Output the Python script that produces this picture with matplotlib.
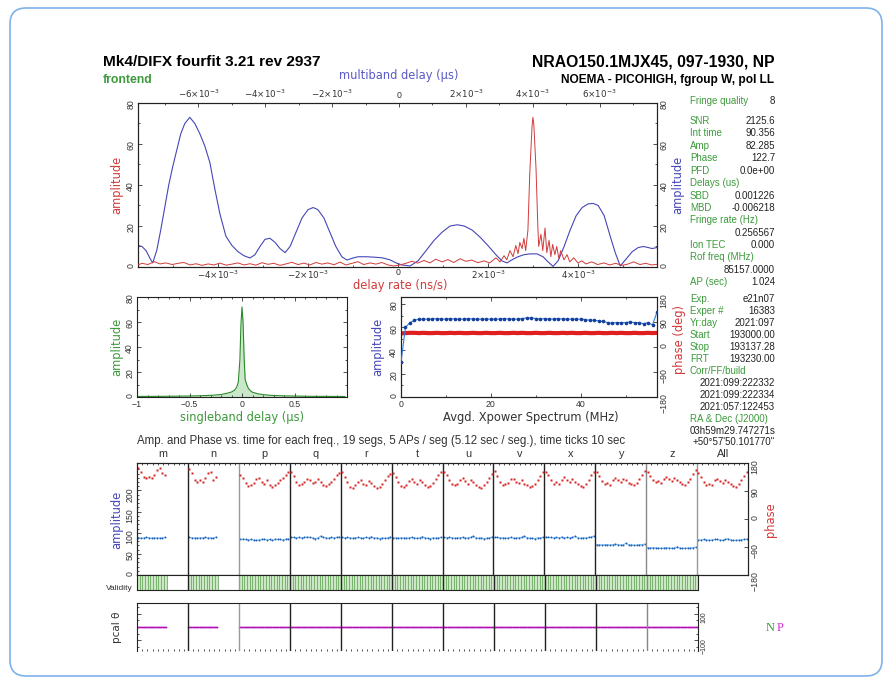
import numpy as np
import matplotlib
matplotlib.use('Agg')
import matplotlib.pyplot as plt
from matplotlib.patches import FancyBboxPatch
from matplotlib.transforms import IdentityTransform

plt.rcParams['font.family'] = ['Liberation Sans', 'DejaVu Sans']
plt.rcParams['mathtext.fontset'] = 'dejavusans'

# --- data ---
# multiband delay (1e-3 us) vs amplitude (blue)
mbd_x = [-7.81, -7.69, -7.57, -7.46, -7.37, -7.25, -7.13, -7.01, -6.89, -6.77, -6.65, -6.53,
         -6.41, -6.26, -6.11, -5.96, -5.81, -5.66, -5.51, -5.36, -5.18, -5.00, -4.82, -4.64,
         -4.46, -4.31, -4.16, -4.01, -3.86, -3.71, -3.56, -3.41, -3.26, -3.08, -2.90, -2.72,
         -2.57, -2.43, -2.25, -2.07, -1.89, -1.71, -1.56, -1.41, -1.23, -0.99, -0.75, -0.51,
         -0.27, -0.09, 0.09, 0.33, 0.57, 0.81, 1.05, 1.29, 1.53, 1.74, 1.95, 2.19, 2.43, 2.66,
         2.90, 3.08, 3.23, 3.38, 3.56, 3.74, 3.92, 4.13, 4.31, 4.46, 4.61, 4.76, 4.94, 5.12,
         5.30, 5.48, 5.66, 5.81, 5.96, 6.14, 6.32, 6.47, 6.62, 6.80, 6.98, 7.16, 7.31, 7.46,
         7.57, 7.72]
mbd_amp = [10.5, 10, 8, 4.5, 2, 8, 18, 29, 40, 49, 57, 65,
           70, 73, 70, 65, 59, 51, 38, 26, 15, 10.5, 7.5, 5.5,
           4.4, 6, 10, 13.5, 14, 12, 9, 7, 10, 17, 24, 28,
           29, 28, 24, 17, 10, 5, 3.4, 4.2, 5, 5, 4.8, 4.5,
           3.5, 2, 1, 0.5, 3, 8, 13, 17, 20, 20.6, 20, 18, 14.5, 10.5,
           6, 3, 2, 3.5, 5, 6, 6.4, 6.4, 5, 2.5, 0.3, 3, 10, 18,
           25, 29, 30.8, 31, 30, 25, 15, 7, 0.5, 4, 7.5, 9.5, 10, 9.5,
           9, 9.5]

# delay rate (1e-3 ns/s) vs amplitude (red)
rate_x = [-5.78, -5.69, -5.56, -5.42, -5.29, -5.16, -5.02, -4.89, -4.76, -4.62, -4.49, -4.36,
          -4.22, -4.09, -3.96, -3.82, -3.69, -3.56, -3.42, -3.29, -3.16, -3.02, -2.89, -2.76,
          -2.62, -2.49, -2.36, -2.22, -2.09, -1.96, -1.82, -1.69, -1.56, -1.42, -1.29, -1.16,
          -1.02, -0.89, -0.76, -0.62, -0.49, -0.36, -0.22, -0.09, 0.04, 0.18, 0.31, 0.44,
          0.58, 0.71, 0.84, 0.98, 1.11, 1.24, 1.38, 1.51, 1.64, 1.78, 1.91, 2.04, 2.18, 2.27,
          2.36, 2.42, 2.49, 2.56, 2.62, 2.67, 2.71, 2.76, 2.80, 2.84, 2.89, 2.93, 2.98, 3.00,
          3.02, 3.07, 3.11, 3.13, 3.18, 3.22, 3.27, 3.31, 3.36, 3.40, 3.44, 3.49, 3.53, 3.58,
          3.62, 3.69, 3.76, 3.82, 3.91, 4.00, 4.09, 4.18, 4.31, 4.44, 4.58, 4.71, 4.84, 4.98,
          5.11, 5.24, 5.38, 5.51, 5.64, 5.76]
rate_amp = [1.0, 1.8, 1.2, 2.6, 1.5, 2.0, 1.2, 1.8, 2.2, 1.0, 1.6, 0.8,
            1.5, 1.0, 1.9, 0.9, 1.4, 2.0, 1.0, 1.6, 0.9, 2.1, 1.3, 1.8,
            0.8, 1.5, 2.3, 1.2, 1.9, 1.0, 2.2, 1.4, 2.0, 1.1, 2.4, 1.0,
            1.8, 2.6, 1.2, 2.0, 1.4, 2.2, 1.0, 0.5, 1.0, 1.8, 2.8, 1.9,
            3.2, 2.0, 3.8, 2.5, 3.6, 2.2, 4.0, 2.8, 3.4, 2.1, 3.0, 2.0, 4.5, 2.5,
            5.5, 3.5, 8.0, 5.0, 10.5, 6.5, 12, 9, 14, 8, 18, 45, 68, 73,
            70, 48, 20, 10, 16, 8, 19, 7, 13, 5, 11, 6, 10, 4,
            8, 3.5, 6, 2.5, 4.5, 2.0, 3.0, 1.5, 2.5, 1.2, 2.0, 1.0, 1.8, 0.8,
            1.4, 2.5, 1.2, 1.8, 1.0, 1.3]

# singleband delay (us) vs amplitude (green)
sbd_x = [-1.0, -0.9, -0.8, -0.7, -0.6, -0.5, -0.4, -0.3, -0.25, -0.2, -0.15, -0.1, -0.07,
         -0.05, -0.035, -0.02, -0.01, 0.0, 0.01, 0.02, 0.03, 0.045, 0.06, 0.08, 0.1, 0.15,
         0.2, 0.25, 0.3, 0.4, 0.5, 0.6, 0.7, 0.8, 0.9, 0.98]
sbd_amp = [0.4, 0.5, 0.5, 0.6, 0.7, 0.8, 1.0, 1.3, 1.6, 2.0, 2.8, 4.0, 5.5,
           8, 12, 30, 58, 72, 60, 32, 14, 10, 7, 5, 3.8, 2.6,
           1.9, 1.5, 1.2, 0.9, 0.8, 0.6, 0.5, 0.5, 0.4, 0.4]

# averaged cross-power spectrum
xp_freq = [0, 1, 2, 3, 4, 5, 6, 7, 8, 9, 10, 11, 12, 13, 14, 15, 16, 17, 18, 19, 20, 21, 22,
           23, 24, 25, 26, 27, 28, 29, 30, 31, 32, 33, 34, 35, 36, 37, 38, 39, 40, 41, 42, 43,
           44, 45, 46, 47, 48, 49, 50, 51, 52, 53, 54, 55, 56, 57]
xp_amp = [30, 60, 64, 66, 67, 67, 67, 67, 67.5, 67, 67, 67.5, 67, 67, 67, 67.5, 67, 67, 67,
          67, 67, 67, 67, 67.5, 67, 67, 67, 67.5, 68, 68, 67.5, 67, 67.5, 67, 67, 67.5, 67,
          67, 67, 67, 67, 66.5, 66, 66, 65.5, 65, 64, 63.5, 64, 64, 64, 64.5, 64, 64, 63,
          64, 62, 73]
xp_phase = [49, 50, 51, 51, 50, 51, 50, 50, 51, 50, 50, 51, 50, 51, 50, 50, 51, 50, 50, 51,
            50, 50, 51, 50, 50, 51, 50, 51, 50, 50, 51, 50, 50, 51, 50, 50, 51, 50, 51, 50,
            50, 51, 50, 50, 51, 50, 50, 51, 50, 51, 50, 50, 51, 50, 50, 51, 50, 51]

# per-channel amplitude / phase vs. time (one value per segment)
channels = ['m', 'n', 'p', 'q', 'r', 't', 'u', 'v', 'x', 'y', 'z', 'All']
seg_phase = [
    [164, 152, 136, 131, 136, 131, 140, 157, 164, 148, 140],
    [160, 147, 125, 120, 125, 120, 131, 147, 152, 125, 136],
    [140, 132, 116, 106, 110, 116, 128, 132, 120, 114, 124, 110, 104, 108, 116, 124, 132, 142, 150],
    [152, 138, 120, 108, 112, 118, 130, 126, 116, 120, 128, 118, 110, 106, 112, 120, 130, 140, 148],
    [150, 136, 118, 104, 100, 108, 118, 124, 114, 110, 122, 116, 106, 100, 104, 114, 126, 138, 146],
    [148, 134, 118, 106, 102, 110, 122, 128, 118, 112, 124, 118, 108, 102, 106, 116, 128, 140, 150],
    [150, 140, 124, 112, 108, 114, 126, 132, 122, 114, 126, 118, 110, 104, 100, 108, 118, 132, 144],
    [154, 138, 120, 108, 112, 116, 128, 130, 120, 116, 124, 114, 108, 102, 106, 112, 124, 138, 150],
    [150, 140, 124, 114, 118, 112, 126, 134, 124, 118, 128, 120, 112, 106, 104, 112, 124, 140, 152],
    [152, 138, 122, 112, 116, 110, 124, 132, 126, 118, 128, 124, 116, 112, 108, 116, 128, 142, 154],
    [150, 138, 126, 118, 122, 116, 130, 136, 128, 122, 132, 126, 118, 114, 110, 118, 130, 144, 156],
    [148, 136, 120, 110, 114, 110, 124, 130, 122, 116, 126, 118, 112, 106, 104, 112, 124, 138, 150],
]
seg_amp = [
    [88, 87, 88, 89, 88, 87, 88, 88, 87, 88, 89],
    [89, 88, 88, 87, 88, 88, 89, 88, 88, 87, 90],
    [84, 85, 84, 83, 84, 83, 82, 83, 84, 85, 83, 84, 82, 84, 85, 84, 83, 85, 86],
    [89, 89, 88, 89, 88, 89, 90, 89, 88, 86, 88, 92, 89, 88, 87, 89, 88, 89, 90],
    [89, 88, 89, 88, 87, 88, 89, 88, 87, 89, 88, 91, 87, 88, 86, 88, 87, 88, 90],
    [88, 88, 87, 88, 88, 87, 88, 89, 88, 87, 88, 91, 88, 87, 86, 88, 87, 88, 89],
    [89, 88, 89, 88, 87, 88, 88, 89, 87, 88, 89, 92, 88, 87, 88, 86, 87, 88, 90],
    [89, 89, 88, 88, 87, 88, 89, 87, 88, 88, 89, 92, 88, 87, 87, 86, 88, 88, 89],
    [90, 89, 89, 88, 89, 88, 90, 88, 89, 88, 89, 92, 88, 87, 88, 88, 89, 90, 92],
    [72, 72, 71, 72, 72, 71, 72, 73, 72, 71, 72, 75, 71, 72, 70, 71, 72, 72, 73],
    [65, 64, 65, 64, 64, 63, 64, 65, 64, 63, 64, 67, 64, 63, 63, 64, 64, 65, 66],
    [83, 83, 84, 83, 82, 83, 84, 84, 83, 82, 84, 86, 83, 82, 82, 83, 83, 84, 85],
]
pcal_phase = [0, 0, 0, 0, 0, 0, 0, 0, 0, 0, 0]

info_rows = [
    ('Fringe quality', '8'), ('SNR', '2125.6'), ('Int time', '90.356'), ('Amp', '82.285'),
    ('Phase', '122.7'), ('PFD', '0.0e+00'), ('Delays (us)', ''), ('SBD', '0.001226'),
    ('MBD', '-0.006218'), ('Fringe rate (Hz)', ''), ('', '0.256567'), ('Ion TEC', '0.000'),
    ('Rof freq (MHz)', ''), ('', '85157.0000'), ('AP (sec)', '1.024'), ('Exp.', 'e21n07'),
    ('Exper #', '16383'), ('Yr:day', '2021:097'), ('Start', '193000.00'), ('Stop', '193137.28'),
    ('FRT', '193230.00'), ('Corr/FF/build', ''), ('', '2021:099:222332'), ('', '2021:099:222334'),
    ('', '2021:057:122453'), ('RA & Dec (J2000)', ''), ('', '03h59m29.747271s'),
    ('', '+50\u00b057\'50.101770"'),
]
info_y = [101, 121, 133, 146, 158, 171, 183, 196, 208, 220, 233, 245, 257, 270, 282,
          299, 311, 323, 335, 347, 359, 371, 383, 395, 407, 419, 431, 442]

# --- layout helpers (pixel boxes in a 892x679 canvas) ---
W, H = 892, 679
RED = '#d23a3a'
BLUE = '#4646b8'
GREEN = '#3c9a3c'
TXT = '#333333'
LAB = dict(family='DejaVu Sans', fontsize=8.3)


def box(x0, y0, x1, y1):
    return [x0 / W, 1 - y1 / H, (x1 - x0) / W, (y1 - y0) / H]


def ftext(x, y, s, **kw):
    fig.text(x / W, 1 - y / H, s, **kw)


def style(ax, size=6.3):
    ax.tick_params(which='both', direction='in', labelsize=size, colors='#333333',
                   width=0.6, pad=2)
    ax.tick_params(which='major', length=3)
    ax.tick_params(which='minor', length=1.5)
    for s in ax.spines.values():
        s.set_linewidth(0.8)
        s.set_color('#222222')


def sci(v):
    if v == 0:
        return '0'
    return r'$%d{\times}10^{-3}$' % v


fig = plt.figure(figsize=(8.92, 6.79), dpi=100)

# rounded frame round the figure
fig.patches.append(FancyBboxPatch((10, 3), 872, 668, boxstyle='round,pad=0,rounding_size=16',
                                  transform=IdentityTransform(), fill=False,
                                  edgecolor='#7fb2ea', linewidth=1.2, figure=fig))

# titles
ftext(103, 62, 'Mk4/DIFX fourfit 3.21 rev 2937', fontsize=11.1, fontweight='bold', va='center')
ftext(103, 80, 'frontend', fontsize=8.8, fontweight='bold', color=GREEN, va='center')
ftext(774, 62, 'NRAO150.1MJX45, 097-1930, NP', fontsize=11.3, fontweight='bold', va='center',
      ha='right')
ftext(774, 80, 'NOEMA - PICOHIGH, fgroup W, pol LL', fontsize=8.6, fontweight='bold',
      va='center', ha='right')
ftext(399, 76, 'multiband delay (\u03bcs)', color='#5a5ac8', va='center', ha='center', **LAB)

# --- top panel: delay rate & multiband delay ---
ax1 = fig.add_axes(box(138, 103, 657, 267))
ax1.plot(rate_x, rate_amp, color=RED, lw=0.7, zorder=3)
ax1.set_xlim(-5.78, 5.76)
ax1.set_ylim(0, 80)
ax1.set_xticks([-4, -2, 0, 2, 4])
ax1.set_xticklabels([sci(v) for v in [-4, -2, 0, 2, 4]])
ax1.set_xticks([-5, -3, -1, 1, 3, 5], minor=True)
ax1.set_yticks([0, 20, 40, 60, 80])
ax1.set_yticks([10, 30, 50, 70], minor=True)
style(ax1)
ax1.tick_params(axis='x', pad=1)
ax1.tick_params(axis='y', which='both', right=True, labelright=True, labelrotation=90)
ax2 = ax1.twiny()
ax2.plot(mbd_x, mbd_amp, color=BLUE, lw=0.8)
ax2.set_xlim(-7.81, 7.72)
ax2.set_xticks([-6, -4, -2, 0, 2, 4, 6])
ax2.set_xticklabels([sci(v) for v in [-6, -4, -2, 0, 2, 4, 6]])
ax2.set_xticks([-7, -5, -3, -1, 1, 3, 5, 7], minor=True)
style(ax2)
ax1.set_zorder(ax2.get_zorder() + 1)
ax1.patch.set_visible(False)
ftext(117, 185, 'amplitude', color=RED, rotation=90, va='center', ha='center', **LAB)
ftext(678, 185, 'amplitude', color=BLUE, rotation=90, va='center', ha='center', **LAB)
ftext(400, 285, 'delay rate (ns/s)', color=RED, va='center', ha='center', **LAB)

# --- singleband delay ---
ax3 = fig.add_axes(box(137, 297, 347, 397))
ax3.fill_between(sbd_x, 0, sbd_amp, color='#a8d8a8', alpha=0.6, lw=0)
ax3.plot(sbd_x, sbd_amp, color='#2a8a2a', lw=0.8)
ax3.set_xlim(-1, 1)
ax3.set_ylim(0, 80)
ax3.set_xticks([-1, -0.5, 0, 0.5])
ax3.set_xticklabels(['\u22121', '\u22120.5', '0', '0.5'])
ax3.set_xticks([-0.9, -0.8, -0.7, -0.6, -0.4, -0.3, -0.2, -0.1, 0.1, 0.2, 0.3, 0.4,
                0.6, 0.7, 0.8, 0.9], minor=True)
ax3.set_yticks([0, 20, 40, 60, 80])
ax3.set_yticks([10, 30, 50, 70], minor=True)
style(ax3)
ax3.tick_params(which='both', top=True, right=True)
ax3.tick_params(axis='y', labelrotation=90)
ftext(117, 347, 'amplitude', color=GREEN, rotation=90, va='center', ha='center', **LAB)
ftext(242, 418, 'singleband delay (\u03bcs)', color=GREEN, va='center', ha='center', **LAB)

# --- cross-power spectrum ---
ax4 = fig.add_axes(box(401, 297, 657, 397))
ax4.plot(xp_freq, xp_amp, '-o', color='#2f7fe0', lw=0.8, ms=1.6, mfc='#153f9a',
         mec='#153f9a', zorder=3)
ax4.set_xlim(0, 57)
ax4.set_ylim(0, 86)
ax4.set_xticks([0, 20, 40])
ax4.set_xticks([10, 30, 50], minor=True)
ax4.set_yticks([0, 20, 40, 60, 80])
ax4.set_yticks([10, 30, 50, 70], minor=True)
style(ax4)
ax4.tick_params(axis='y', labelrotation=90)
ax4.tick_params(axis='x', which='both', top=True)
ax5 = ax4.twinx()
ax5.plot(xp_freq, xp_phase, color='#e02020', lw=3)
ax5.set_ylim(-180, 180)
ax5.set_yticks([-180, -90, 0, 90, 180])
style(ax5)
ax5.tick_params(axis='y', labelrotation=90)
ax4.set_zorder(ax5.get_zorder() + 1)
ax4.patch.set_visible(False)
ftext(378, 347, 'amplitude', color=BLUE, rotation=90, va='center', ha='center', **LAB)
ftext(679, 340, 'phase (deg)', color=RED, rotation=90, va='center', ha='center', **LAB)
ftext(531, 418, 'Avgd. Xpower Spectrum (MHz)', color=TXT, va='center', ha='center', **LAB)

# --- fringe summary text ---
for (lab, val), yy in zip(info_rows, info_y):
    if lab:
        ftext(690, yy, lab, fontsize=7, color=GREEN, va='center')
    if val:
        ftext(775, yy, val, fontsize=7, color='#222222', va='center', ha='right')

# --- amplitude & phase vs time per channel ---
ftext(137, 441, 'Amp. and Phase vs. time for each freq., 19 segs, 5 APs / seg '
      '(5.12 sec / seg.), time ticks 10 sec', fontsize=8.3, color=TXT, va='center')
for k, ch in enumerate(channels):
    ftext(137 + 51 * (k + 0.5), 454, ch, fontsize=7.8, color=TXT, va='center', ha='center')

time_ticks = [k + t / 9.728 for k in range(12) for t in range(1, 10)]

ax6 = fig.add_axes(box(137, 463, 748, 575))
ax7 = ax6.twinx()
for k in range(12):
    n = len(seg_amp[k])
    xs = [k + (j + 0.5) / 19 for j in range(n)]
    ax6.plot(xs, seg_amp[k], '-', color='#8cc4f0', lw=0.8)
    ax6.plot(xs, seg_amp[k], 'o', color='#1a5fb8', ms=1.4, mec='none')
    ax7.plot(xs, seg_phase[k], 's', color='#d42626', ms=1.7, mec='none')
sep_col = ['#222', '#999', '#222', '#222', '#222', '#222', '#222', '#222', '#222', '#888', '#999']
for k in range(1, 12):
    ax6.axvline(k, color=sep_col[k - 1], lw=1.0)
ax6.set_xlim(0, 12)
ax6.set_ylim(0, 265)
ax6.set_yticks([0, 50, 100, 150, 200])
ax6.set_yticks(list(range(10, 260, 10)), minor=True)
ax6.set_xticks([])
ax6.set_xticks(time_ticks, minor=True)
style(ax6)
ax6.tick_params(axis='x', which='both', top=True, bottom=False, labelbottom=False)
ax6.tick_params(axis='y', labelrotation=90)
ax7.set_ylim(-180, 180)
ax7.set_yticks([-180, -90, 0, 90, 180])
style(ax7)
ax7.tick_params(axis='y', labelrotation=90)
ftext(117, 520, 'amplitude', color=BLUE, rotation=90, va='center', ha='center', **LAB)
ftext(771, 520, 'phase', color=RED, rotation=90, va='center', ha='center', **LAB)

# validity strip
ax8 = fig.add_axes(box(137, 575, 698, 590))
for k in range(11):
    n = len(seg_amp[k])
    ax8.axvspan(k, k + n / 19, color='#cde8c6', lw=0)
    for j in range(n + 1):
        ax8.plot([k + j / 19, k + j / 19], [0, 1], color='#6aaa5e', lw=0.6)
for k in range(1, 11):
    ax8.axvline(k, color=sep_col[k - 1], lw=1.0)
ax8.set_xlim(0, 11)
ax8.set_ylim(0, 1)
ax8.set_xticks([])
ax8.set_yticks([])
style(ax8)
ftext(119, 588, 'Validity', fontsize=6, color=TXT, va='center', ha='center')

# phase-cal strip
ax9 = fig.add_axes(box(137, 603, 698, 651))
for k in range(11):
    n = len(seg_amp[k])
    xs = [k + (j + 0.5) / 95 for j in range(n * 5)]
    ax9.plot(xs, [pcal_phase[k]] * len(xs), '-o', color='#e030e0', lw=1.0, ms=1.0,
             mfc='#b010b0', mec='none')
for k in range(1, 11):
    ax9.axvline(k, color=sep_col[k - 1], lw=1.0)
ax9.set_xlim(0, 11)
ax9.set_ylim(-180, 180)
ax9.set_xticks([])
ax9.set_xticks([k + t / 9.728 for k in range(11) for t in range(1, 10)], minor=True)
ax9.set_yticks([-100, 100])
ax9.set_yticks([-150, -50, 0, 50, 150], minor=True)
style(ax9, size=5)
ax9.spines['bottom'].set_visible(False)
ax9.tick_params(axis='y', which='both', left=True, right=True, labelleft=False,
                labelright=True, labelrotation=90)
ftext(117, 627, 'pcal \u03b8', color=TXT, rotation=90, va='center', ha='center',
      family='DejaVu Sans', fontsize=7.5)
ftext(766, 628, 'N', fontsize=9, color=GREEN, va='center', family='Liberation Serif')
ftext(777, 628, 'P', fontsize=9, color='#d030d0', va='center', family='Liberation Serif')

fig.savefig('out.png', dpi=100)
